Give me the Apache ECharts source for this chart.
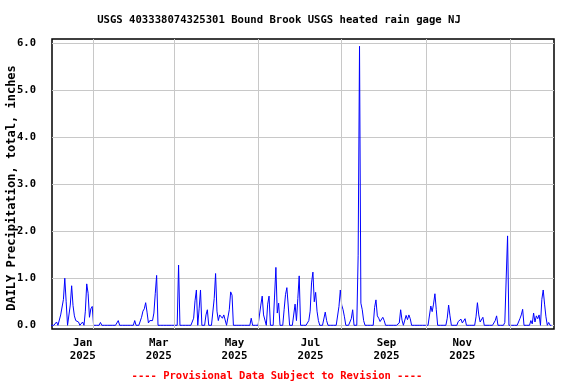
<!DOCTYPE html>
<html>
<head>
<meta charset="utf-8">
<script src="https://cdn.jsdelivr.net/npm/echarts@6/dist/echarts.min.js"></script>
<style>
html,body{margin:0;padding:0;background:#fff;}
#chart{width:576px;height:384px;}
</style>
</head>
<body>
<div id="chart"></div>
<script>
// Daily precipitation (inches), one array per month
const dec24 = [0,0,0,0,0.07,0,0,0.22,0.18,0.55,1.0,0.5,0,0,0.43,0.84,0.42,0.2,0.1,0.08,0.07,0,0,0.07,0,0.3,0.88,0.68,0.17,0.35,0.4];
const jan25 = [0,0,0,0,0,0.06,0,0,0,0,0,0,0,0,0,0,0,0,0.1,0,0,0,0,0,0,0,0,0,0,0,0.1];
const feb25 = [0,0,0,0,0.17,0.3,0.35,0.48,0.28,0.05,0.1,0.14,0.1,0.26,0.68,1.06,0,0,0,0,0,0,0,0,0,0,0,0];
const mar25 = [0,0,0,1.28,0,0,0,0,0,0,0,0,0,0,0.15,0.52,0.75,0,0.35,0.75,0,0,0,0.22,0.33,0,0,0,0,0.57,1.1];
const apr25 = [0.3,0.1,0.22,0.25,0.15,0.22,0.2,0,0,0.33,0.71,0.64,0,0,0,0,0,0,0,0,0,0,0,0,0,0.15,0,0,0,0];
const may25 = [0,0,0.43,0.62,0.22,0.11,0,0.45,0.62,0,0,0,0.6,1.23,0.26,0.47,0,0,0,0.33,0.65,0.8,0.41,0,0,0,0,0.45,0.1,0.57,1.05];
const jun25 = [0,0,0,0,0,0.04,0.1,0.3,0.9,1.13,0.5,0.7,0.3,0.1,0,0,0,0,0.28,0.1,0,0,0,0,0,0,0,0,0.4,0.75];
const jul25 = [0.43,0.33,0.18,0,0,0,0,0.14,0.33,0,0,0,1.49,5.93,0.47,0.33,0.1,0,0,0,0,0,0,0,0.38,0.54,0.2,0.15,0.08,0.04,0.17];
const aug25 = [0.1,0,0,0,0,0,0,0,0,0,0,0.05,0.33,0.11,0,0,0.21,0.12,0.22,0.14,0,0,0,0,0,0,0,0,0,0,0];
const sep25 = [0,0,0,0.41,0.29,0.45,0.67,0.33,0,0,0,0,0,0,0,0.15,0.43,0.2,0,0,0,0,0,0.08,0.05,0.13,0.05,0.08,0.14,0];
const oct25 = [0,0,0,0,0,0,0.18,0.48,0.22,0.07,0.11,0.17,0,0,0,0,0,0,0,0,0.1,0.2,0,0,0,0,0,0.06,1.0,1.9,0];
const nov25 = [0,0,0,0,0,0,0,0.14,0.22,0.34,0,0,0,0,0,0.1,0.03,0.26,0.07,0.2,0.14,0.22,0,0.55,0.75,0.45,0.18,0,0.06,0];
const dec25 = [0];

const monthBlocks = [
  [2024, 11, dec24], [2025, 0, jan25], [2025, 1, feb25], [2025, 2, mar25],
  [2025, 3, apr25], [2025, 4, may25], [2025, 5, jun25], [2025, 6, jul25],
  [2025, 7, aug25], [2025, 8, sep25], [2025, 9, oct25], [2025, 10, nov25],
  [2025, 11, dec25]
];

// Vertical grid lines (month starts) and tick labels
const gridMonths = [[2025,0,1],[2025,2,1],[2025,4,1],[2025,6,1],[2025,8,1],[2025,10,1]];
const tickMonths = ['Jan','Mar','May','Jul','Sep','Nov'];
const tickYears = ['2025','2025','2025','2025','2025','2025'];
const yTicks = [0,1,2,3,4,5,6];

const titleText = 'USGS 403338074325301 Bound Brook USGS heated rain gage NJ';
const yName = 'DAILY Precipitation, total, inches';
const footer = '---- Provisional Data Subject to Revision ----';

const series = [];
monthBlocks.forEach(([y, m, arr]) => {
  arr.forEach((v, i) => series.push([new Date(y, m, i + 1).getTime(), v]));
});

const FONT = 'DejaVu Sans Mono';
const chart = echarts.init(document.getElementById('chart'), null, {renderer: 'canvas'});
chart.setOption({
  animation: false,
  backgroundColor: '#fff',
  title: [
    {text: titleText, left: 274, top: 10, textAlign: 'center',
     textStyle: {fontFamily: FONT, fontWeight: 'bold', fontSize: 10.6, color: '#000'}},
    {text: footer, left: 272, top: 366, textAlign: 'center',
     textStyle: {fontFamily: FONT, fontWeight: 'bold', fontSize: 10.5, color: '#ff0000'}}
  ],
  graphic: [{
    type: 'text', x: 12, y: 188, rotation: Math.PI / 2,
    style: {text: yName, textAlign: 'center', textVerticalAlign: 'middle',
            font: 'bold 12px "DejaVu Sans Mono"', fill: '#000'}
  }],
  grid: {left: 52, right: 22, top: 39, bottom: 55, show: true,
         borderColor: '#000', borderWidth: 1.5, backgroundColor: 'transparent'},
  xAxis: [
    {type: 'time', min: new Date(2024, 11, 1, 16).getTime(), max: new Date(2025, 11, 2, 21).getTime(),
     axisLine: {show: false}, axisTick: {show: false}, axisLabel: {show: false}, splitLine: {show: false}},
    {type: 'value', min: -0.405, max: 6.208, position: 'bottom',
     axisLine: {show: false}, axisTick: {show: false}, splitLine: {show: false},
     axisLabel: {customValues: [0,1,2,3,4,5], margin: 8, lineHeight: 12.5,
       fontFamily: FONT, fontWeight: 'bold', fontSize: 10.8, color: '#000',
       formatter: v => tickMonths[Math.round(v)] + '\n' + tickYears[Math.round(v)]}}
  ],
  yAxis: {type: 'value', min: -0.079, max: 6.085,
    axisLine: {show: false},
    axisTick: {show: false, customValues: yTicks},
    axisLabel: {customValues: yTicks, margin: 16, fontFamily: FONT, fontWeight: 'bold',
                fontSize: 10.5, color: '#000', formatter: v => v.toFixed(1)},
    splitLine: {show: true, lineStyle: {color: '#c8c8c8', width: 1}}
  },
  series: [
    {type: 'line', xAxisIndex: 0, data: [], z: 1, silent: true,
     markLine: {silent: true, symbol: 'none', label: {show: false},
       lineStyle: {color: '#c8c8c8', width: 1, type: 'solid'},
       data: gridMonths.map(([y, m, d]) => ({xAxis: new Date(y, m, d).getTime()}))}},
    {type: 'line', xAxisIndex: 0, data: series, showSymbol: false, z: 3,
     lineStyle: {color: '#0000ff', width: 1}, itemStyle: {color: '#0000ff'}}
  ]
});
</script>
</body>
</html>
